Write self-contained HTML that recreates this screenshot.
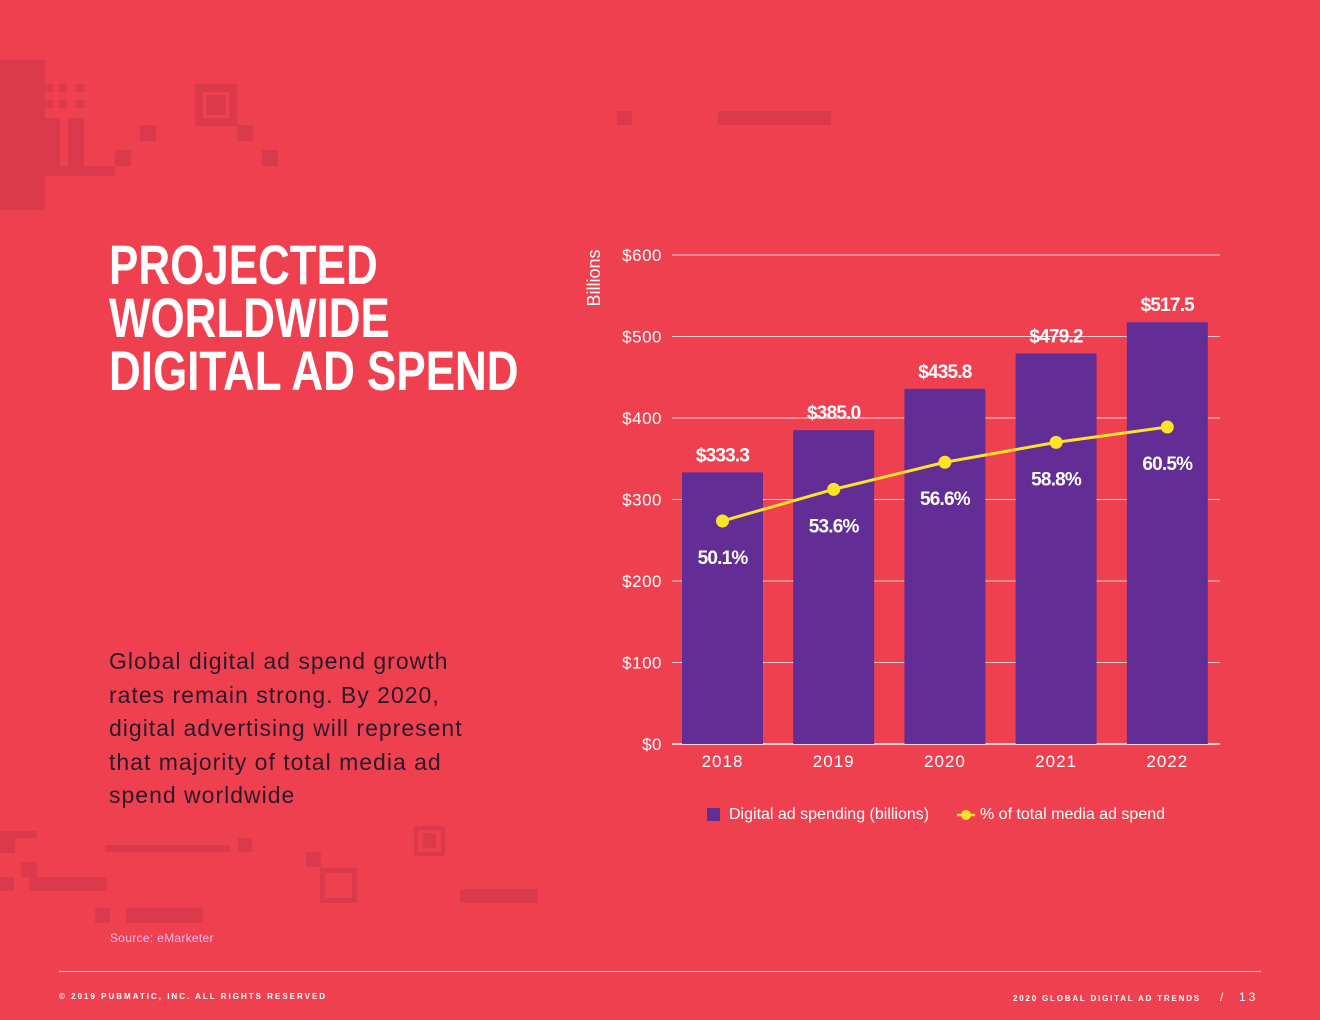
<!DOCTYPE html>
<html><head><meta charset="utf-8">
<style>
body{margin:0;width:1320px;height:1020px;background:#ef4050;position:relative;overflow:hidden;font-family:"Liberation Sans",sans-serif;}
.d{position:absolute;background:#db3a4c;}
.t{position:absolute;color:#fff;}
</style></head><body>
<div>
<div class="d" style="left:0;top:60px;width:45px;height:150px"></div>
<div class="d" style="left:45px;top:84px;width:8px;height:8px"></div>
<div class="d" style="left:59px;top:84px;width:8px;height:8px"></div>
<div class="d" style="left:76px;top:84px;width:8px;height:8px"></div>
<div class="d" style="left:45px;top:100px;width:8px;height:8px"></div>
<div class="d" style="left:59px;top:100px;width:8px;height:8px"></div>
<div class="d" style="left:76px;top:100px;width:8px;height:8px"></div>
<div class="d" style="left:45px;top:118px;width:15px;height:50px"></div>
<div class="d" style="left:68px;top:118px;width:16px;height:50px"></div>
<div class="d" style="left:45px;top:166px;width:70px;height:10px"></div>
<div class="d" style="left:140px;top:125px;width:16px;height:16px"></div>
<div class="d" style="left:115px;top:150px;width:16px;height:16px"></div>
<div class="d" style="left:195px;top:84px;width:42px;height:42px;background:none;border:8px solid #db3a4c;box-sizing:border-box"></div>
<div class="d" style="left:206px;top:95px;width:20px;height:20px"></div>
<div class="d" style="left:237px;top:125px;width:16px;height:16px"></div>
<div class="d" style="left:262px;top:150px;width:16px;height:16px"></div>
<div class="d" style="left:617px;top:111px;width:15px;height:14px"></div>
<div class="d" style="left:718px;top:111px;width:113px;height:14px"></div>
<div class="d" style="left:0;top:831px;width:37px;height:7px"></div>
<div class="d" style="left:0;top:838px;width:15px;height:15px"></div>
<div class="d" style="left:105px;top:845px;width:125px;height:7px"></div>
<div class="d" style="left:238px;top:838px;width:14px;height:14px"></div>
<div class="d" style="left:21px;top:862px;width:16px;height:15px"></div>
<div class="d" style="left:0;top:877px;width:14px;height:14px"></div>
<div class="d" style="left:29px;top:877px;width:78px;height:14px"></div>
<div class="d" style="left:306px;top:852px;width:15px;height:15px"></div>
<div class="d" style="left:320px;top:868px;width:37px;height:35px;background:none;border:5px solid #db3a4c;box-sizing:border-box"></div>
<div class="d" style="left:414px;top:826px;width:31px;height:30px;background:none;border:4px solid #db3a4c;box-sizing:border-box"></div>
<div class="d" style="left:423px;top:833px;width:13px;height:15px"></div>
<div class="d" style="left:460px;top:889px;width:78px;height:14px"></div>
<div class="d" style="left:95px;top:908px;width:15px;height:15px"></div>
<div class="d" style="left:126px;top:908px;width:77px;height:15px"></div>
</div>
<div class="t" style="left:109px;top:238px;font-weight:bold;font-size:56px;line-height:53px;transform:scaleX(0.785);transform-origin:0 0;white-space:nowrap">PROJECTED<br>WORLDWIDE<br>DIGITAL AD SPEND</div>
<div class="t" style="left:109px;top:645px;color:#2a1a2a;font-size:23px;line-height:33.5px;letter-spacing:1px;width:400px">Global digital ad spend growth rates remain strong. By 2020, digital advertising will represent that majority of total media ad spend worldwide</div>
<div class="t" style="left:110px;top:931px;font-size:12px;letter-spacing:0.3px;color:#fbe">Source: eMarketer</div>
<div style="position:absolute;left:59px;top:971px;width:1202px;height:1px;background:#f6c8cc"></div>
<div class="t" style="left:59px;top:992px;font-size:8px;font-weight:bold;letter-spacing:2px">© 2019 PUBMATIC, INC. ALL RIGHTS RESERVED</div>
<div class="t" style="left:1013px;top:994px;font-size:8px;font-weight:bold;letter-spacing:1.8px">2020 GLOBAL DIGITAL AD TRENDS</div>
<div class="t" style="left:1220px;top:990px;font-size:12px;letter-spacing:3px">/ &nbsp;13</div>

<svg id="chart" width="1320" height="1020" style="position:absolute;left:0;top:0" xmlns="http://www.w3.org/2000/svg"></svg>
<script>
const categories=["2018","2019","2020","2021","2022"];
const spend=[333.3,385.0,435.8,479.2,517.5];
const share=[50.1,53.6,56.6,58.8,60.5];
const yTicks=[0,100,200,300,400,500,600];
const spendLabels=["$333.3","$385.0","$435.8","$479.2","$517.5"];
const shareLabels=["50.1%","53.6%","56.6%","58.8%","60.5%"];
const svg=document.getElementById('chart');
const NS="http://www.w3.org/2000/svg";
function y(v){return 744-v*(489/600);}
function y2(p){return 521-(p-50.1)*9.04;}
function xc(i){return 722.5+i*111.2;}
function mk(tag,attrs,parent){const e=document.createElementNS(NS,tag);for(const k in attrs)e.setAttribute(k,attrs[k]);(parent||svg).appendChild(e);return e;}
yTicks.forEach(v=>{
  const l=mk('line',{x1:672,x2:1220,y1:y(v),y2:y(v),stroke:'#fff','stroke-width':v===0?1.5:0.8});
  
  
  const t=mk('text',{x:662,y:y(v)+6,'text-anchor':'end',fill:'#fff','font-size':17,'font-family':'Liberation Sans, sans-serif','letter-spacing':'0.5'});
  t.textContent='$'+v;
  
  
});
const yt=mk('text',{x:0,y:0,transform:'translate(600,278) rotate(-90)','text-anchor':'middle',fill:'#fff','font-size':18,'font-family':'Liberation Sans, sans-serif'});
yt.textContent='Billions';


categories.forEach((c,i)=>{
  const b=mk('rect',{x:xc(i)-40.5,y:y(spend[i]),width:81,height:744-y(spend[i]),fill:'#632d96'});
  
  
  const t=mk('text',{x:xc(i),y:y(spend[i])-11,'text-anchor':'middle',fill:'#fff','font-size':19,'font-weight':'bold','letter-spacing':'-0.8','font-family':'Liberation Sans, sans-serif'});
  t.textContent=spendLabels[i];
  
  
  const x=mk('text',{x:xc(i),y:767,'text-anchor':'middle',fill:'#fff','font-size':17,'font-family':'Liberation Sans, sans-serif','letter-spacing':'1'});
  x.textContent=c;
  
  
});
const pts=share.map((p,i)=>xc(i)+','+y2(p)).join(' ');
const pl=mk('polyline',{points:pts,fill:'none',stroke:'#fde22a','stroke-width':3});


share.forEach((p,i)=>{
  const c=mk('circle',{cx:xc(i),cy:y2(p),r:6.5,fill:'#fde22a'});
  
  
  const t=mk('text',{x:xc(i),y:y2(p)+43,'text-anchor':'middle',fill:'#fff','font-size':19,'font-weight':'bold','letter-spacing':'-0.8','font-family':'Liberation Sans, sans-serif'});
  t.textContent=shareLabels[i];
  
  
});
const g=mk('g',{});


const s1=mk('rect',{x:707,y:808,width:13,height:13,fill:'#632d96'},g);


const l1=mk('text',{x:729,y:819,fill:'#fff','font-size':16,'font-family':'Liberation Sans, sans-serif'},g);
l1.textContent='Digital ad spending (billions)';


const s2=mk('line',{x1:957,x2:975,y1:815,y2:815,stroke:'#fde22a','stroke-width':2.5},g);


mk('circle',{cx:966,cy:815,r:5,fill:'#fde22a'},g);
const l2=mk('text',{x:980,y:819,fill:'#fff','font-size':16,'font-family':'Liberation Sans, sans-serif'},g);
l2.textContent='% of total media ad spend';


</script>
</body></html>
